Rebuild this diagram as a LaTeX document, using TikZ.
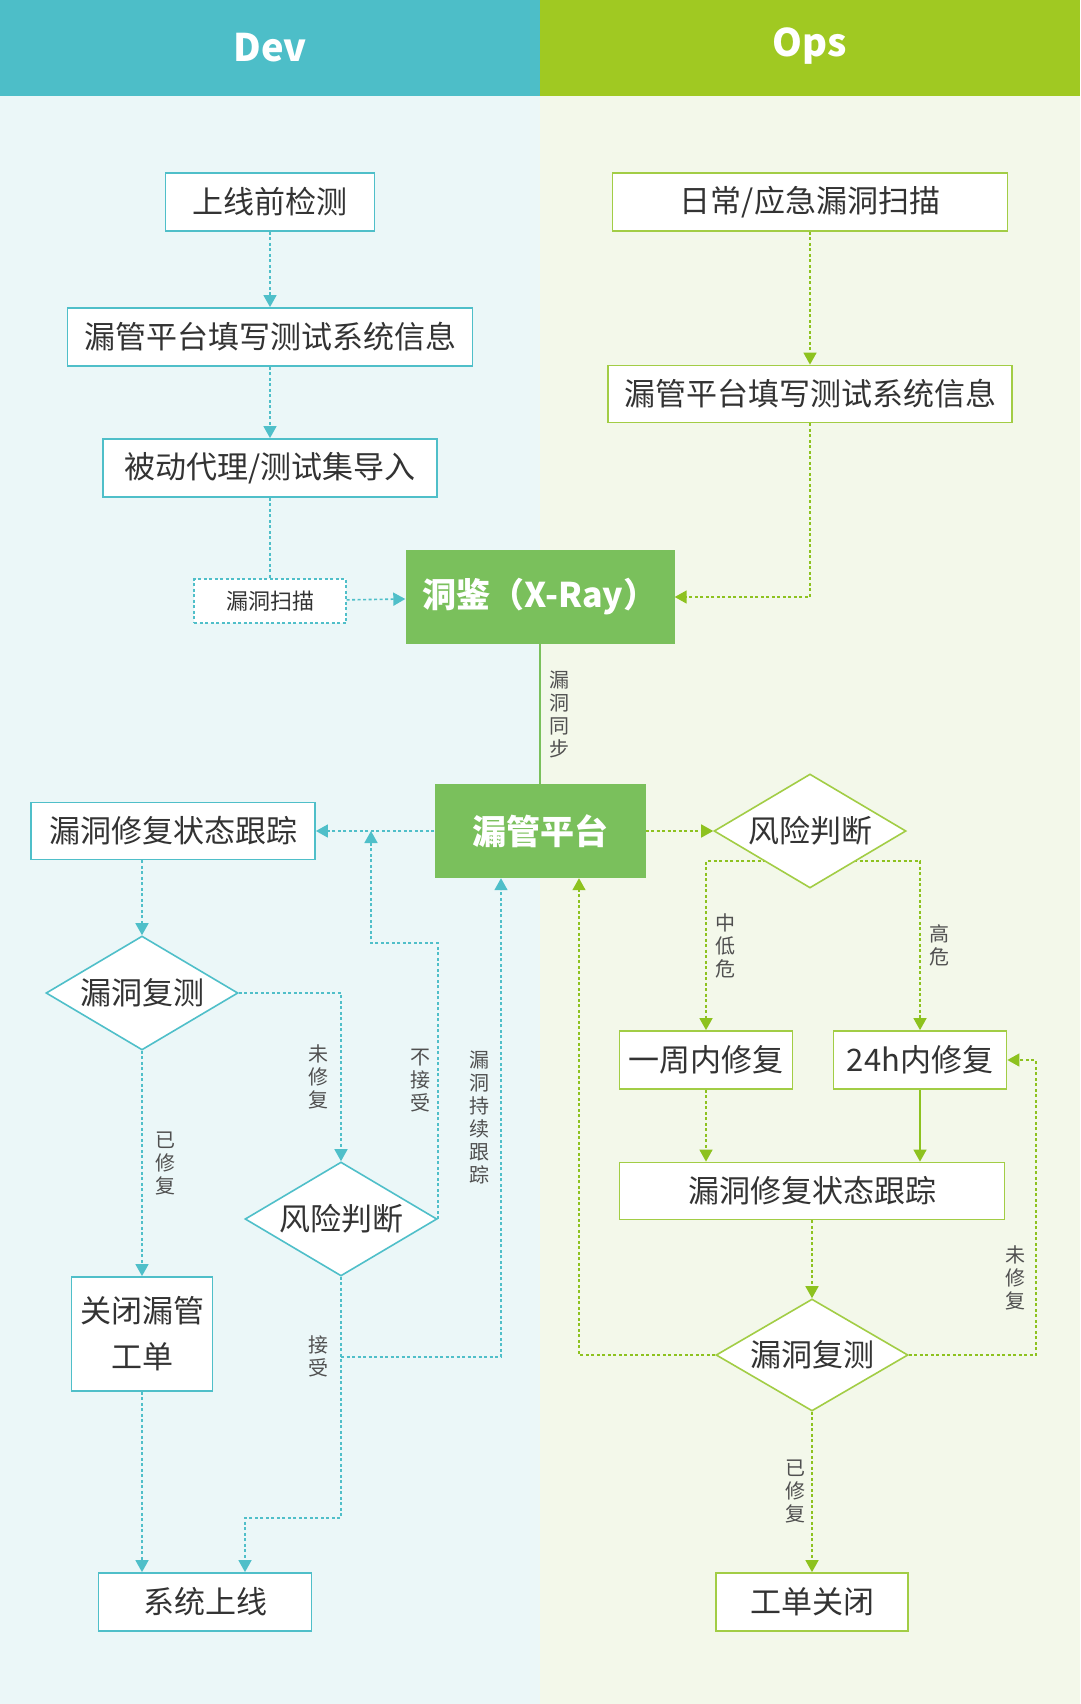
\documentclass[tikz,border=0pt]{standalone}
\usepackage{fontspec}
\setmainfont{Noto Sans CJK SC}
\usepackage{tikz}
\usetikzlibrary{arrows.meta,shapes.geometric}
\definecolor{devc}{HTML}{4FBFC9}
\definecolor{devhd}{HTML}{4DBEC8}
\definecolor{devbg}{HTML}{EBF7F8}
\definecolor{opsc}{HTML}{8DC21F}
\definecolor{opsbd}{HTML}{A2CD45}
\definecolor{opshd}{HTML}{A0C922}
\definecolor{opsbg}{HTML}{F3F8EA}
\definecolor{hubc}{HTML}{7AC05C}
\definecolor{txt}{HTML}{333333}
\definecolor{lblc}{HTML}{505050}
\pgfdeclarelayer{lane}
\pgfdeclarelayer{edge}
\pgfsetlayers{lane,edge,main}
\tikzstyle{devbox} = [rectangle, draw=devc, line width=1.8pt, fill=white, text=txt, inner sep=0pt, align=center, font=\fontsize{31}{46}\selectfont]
\tikzstyle{opsbox} = [rectangle, draw=opsbd, line width=1.8pt, fill=white, text=txt, inner sep=0pt, font=\fontsize{31}{37}\selectfont]
\tikzstyle{devdia} = [diamond, aspect=1.68, minimum width=192pt, minimum height=114pt, draw=devc, line width=1.6pt, fill=white, text=txt, inner sep=0pt, font=\fontsize{31}{37}\selectfont]
\tikzstyle{opsdia} = [diamond, aspect=1.68, minimum width=192pt, minimum height=114pt, draw=opsbd, line width=1.6pt, fill=white, text=txt, inner sep=0pt, font=\fontsize{31}{37}\selectfont]
\tikzstyle{hub} = [rectangle, fill=hubc, text=white, inner sep=0pt, minimum height=94pt, font=\bfseries\fontsize{34}{40}\selectfont]
\tikzstyle{devline} = [devc, line width=1.6pt, dash pattern=on 3pt off 2.5pt, -{Triangle[width=13pt,length=12pt]}]
\tikzstyle{opsline} = [opsc, line width=1.6pt, dash pattern=on 3pt off 2.5pt, -{Triangle[width=13pt,length=12pt]}]
\tikzstyle{lbl} = [text=lblc, align=center, inner sep=0pt, font=\fontsize{20}{23}\selectfont]

\begin{document}
\begin{tikzpicture}[x=1pt, y=-1pt]
\useasboundingbox (0,0) rectangle (1080,1704);

\begin{pgfonlayer}{lane}
 \fill[devbg] (0,0) rectangle (540,1704);
 \fill[opsbg] (540,0) rectangle (1080,1704);
 \fill[devhd] (0,0) rectangle (540,96);
 \fill[opshd] (540,0) rectangle (1080,96);
\end{pgfonlayer}
 \node (devhead) at (270,48) [text=white, font=\bfseries\fontsize{38}{44}\selectfont] {Dev};
 \node (opshead) at (810,46) [text=white, font=\bfseries\fontsize{38}{44}\selectfont] {Ops};

 % Dev
 \node (devtest) at (270,202) [devbox, minimum width=209pt, minimum height=58pt] {上线前检测};
 \node (devinfo) at (270,337) [devbox, minimum width=405pt, minimum height=58pt] {漏管平台填写测试系统信息};
 \node (devproxy) at (270,468) [devbox, minimum width=334pt, minimum height=58pt] {被动代理/测试集导入};
 \node (devscan) at (270,601) [rectangle, draw=devc, line width=1.4pt, dash pattern=on 3pt off 2.5pt, fill=white, text=txt, minimum width=152pt, minimum height=44pt, inner sep=0pt, font=\fontsize{22}{26}\selectfont] {漏洞扫描};
 \node (devtrack) at (173,831) [devbox, minimum width=284pt, minimum height=57pt] {漏洞修复状态跟踪};
 \node (devretest) at (142,993) [devdia] {漏洞复测};
 \node (devrisk) at (341,1219) [devdia] {风险判断};
 \node (devclose) at (142,1334) [devbox, minimum width=141pt, minimum height=114pt] {关闭漏管\\工单};
 \node (devlaunch) at (205,1602) [devbox, minimum width=213pt, minimum height=58pt] {系统上线};

 % hubs
 \node (xray) at (540,597) [hub, minimum width=269pt] {洞鉴（X-Ray）};
 \node (vms) at (540,831) [hub, minimum width=211pt] {漏管平台};

 % Ops
 \node (opsscan) at (810,202) [opsbox, minimum width=395pt, minimum height=58pt] {日常/应急漏洞扫描};
 \node (opsinfo) at (810,394) [opsbox, minimum width=404pt, minimum height=57pt] {漏管平台填写测试系统信息};
 \node (opsrisk) at (810,831) [opsdia] {风险判断};
 \node (opsweek) at (706,1060) [opsbox, minimum width=173pt, minimum height=58pt] {一周内修复};
 \node (ops24) at (920,1060) [opsbox, minimum width=173pt, minimum height=58pt] {24h内修复};
 \node (opstrack) at (812,1191) [opsbox, minimum width=385pt, minimum height=57pt] {漏洞修复状态跟踪};
 \node (opsretest) at (812,1355) [opsdia, minimum height=112pt] {漏洞复测};
 \node (opsclose) at (812,1602) [opsbox, minimum width=192pt, minimum height=58pt] {工单关闭};

 \coordinate (devback) at (371,831);
 \path (devrisk.south) ++(0,80) coordinate (devfork);

\begin{pgfonlayer}{edge}
 \draw[devline] (devtest) -- (devinfo);
 \draw[devline] (devinfo) -- (devproxy);
 \draw[devline, -] (devproxy) -- (devscan);
 \draw[devline] (devscan) -- (xray);
 \draw[hubc, line width=2pt] (xray) -- (vms) node[midway, right=8pt, lbl] {漏\\洞\\同\\步};
 \draw[devline] (vms) -- (devtrack);
 \draw[devline] (devretest.north |- devtrack.south) -- (devretest.north);
 \draw[devline] (devretest.east) -| (devrisk.north) node[pos=.75, left=12pt, lbl] {未\\修\\复};
 \draw[devline] (devretest) -- (devclose) node[midway, right=13pt, lbl] {已\\修\\复};
 \draw[devline] (devrisk.east) -- ++(0,-276) node[midway, left=7pt, lbl] {不\\接\\受} -| (devback);
 \draw[devline] (devrisk.south) -- ++(0,241) -| ([xshift=40pt]devlaunch.north);
 \draw[devline] (devfork) -| ([xshift=-39pt]vms.south) node[pos=.75, left=11pt, lbl] {漏\\洞\\持\\续\\跟\\踪};
 \draw[devline] (devclose.south) -- (devclose.south |- devlaunch.north);

 \draw[opsline] (opsscan) -- (opsinfo);
 \draw[opsline] (opsinfo.south) |- (xray.east);
 \draw[opsline] (vms) -- (opsrisk);
 \draw[opsline] ([yshift=-30pt]opsrisk.center) -| (opsweek.north) node[pos=.75, right=9pt, lbl] {中\\低\\危};
 \draw[opsline] ([yshift=-30pt]opsrisk.center) -| (ops24.north) node[pos=.75, right=9pt, lbl] {高\\危};
 \draw[opsline] (opsweek.south) -- (opsweek.south |- opstrack.north);
 \draw[opsline, solid] (ops24.south) -- (ops24.south |- opstrack.north);
 \draw[opsline] (opstrack.south -| opsretest.north) -- (opsretest.north);
 \draw[opsline] (opsretest.east) -- ++(127,0) |- (ops24.east) node[pos=.13, left=10pt, lbl] {未\\修\\复};
 \draw[opsline] (opsretest.west) -| ([xshift=39pt]vms.south);
 \draw[opsline] (opsretest) -- (opsclose) node[midway, left=6pt, lbl] {已\\修\\复};
\end{pgfonlayer}
 \node at (devfork) [left=12pt, lbl] {接\\受};

\end{tikzpicture}
\end{document}
